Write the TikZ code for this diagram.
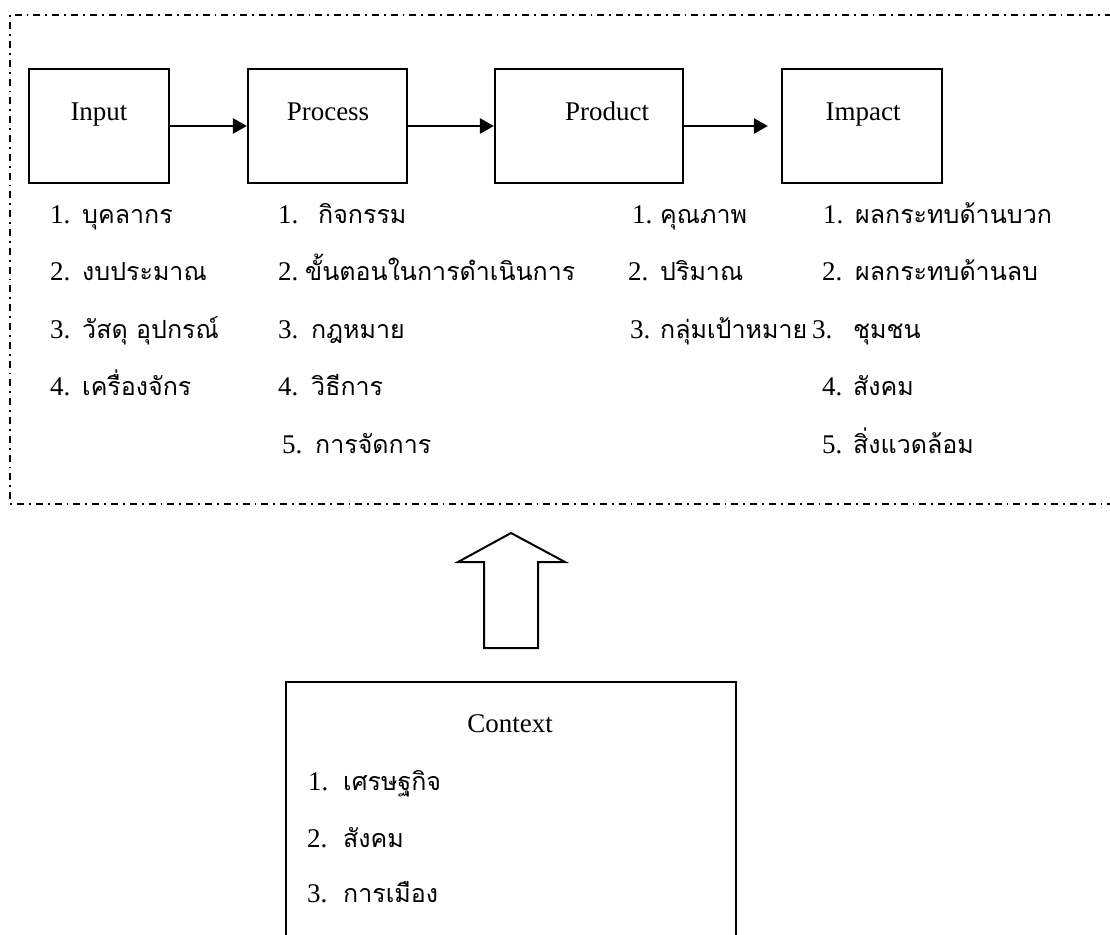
\documentclass[tikz,border=0pt]{standalone}
\usepackage{fontspec}
\setmainfont{Liberation Serif}
\newfontfamily\thaifont[Script=Thai]{Loma}
\usetikzlibrary{arrows.meta}
\newcommand\nb[2]{\makebox[#2pt][l]{#1}}
\tikzset{
  box/.style={draw, line width=2.2pt, minimum width=#1, minimum height=114pt, inner sep=0pt},
  lbl/.style={anchor=base, font=\fontsize{27}{30}\selectfont, inner sep=0pt},
  lst/.style={anchor=base west, font=\fontsize{27}{30}\selectfont, inner sep=0pt},
  conn/.style={line width=2.6pt, -{Triangle[length=14pt,width=15pt]}},
  frame/.style={line width=1.8pt, dash pattern=on 7pt off 5pt on 1.8pt off 5pt},
  bigarrow/.style={line width=2pt, line join=miter}
}
\newcommand\thtxt[1]{{\thaifont\fontsize{25}{28}\selectfont #1}}
\begin{document}
\begin{tikzpicture}[x=1pt,y=-1pt]
\useasboundingbox (0,0) rectangle (1110,934);
% dashed frame
\draw[frame] (1112,15) -- (10,15) -- (10,504) -- (1112,504);
% boxes
\node[box=140pt] (in) at (99,126) {};
\node[box=159pt] (pr) at (327.5,126) {};
\node[box=188pt] (pd) at (589,126) {};
\node[box=160pt] (im) at (862,126) {};
\node[lbl] (inl) at (99,120) {Input};
\node[lbl] (prl) at (328,120) {Process};
\node[lbl] (pdl) at (607,120) {Product};
\node[lbl] (iml) at (863,120) {Impact};
% connectors
\draw[conn] (in.east) -- (pr.west);
\draw[conn] (pr.east) -- (pd.west);
\draw[conn, shorten >=13pt] (pd.east) -- (im.west);
% Input list
\node[lst] (i1) at (50,223) {\nb{1.}{32}\thtxt{บุคลากร}};
\node[lst] (i2) at (50,280) {\nb{2.}{32}\thtxt{งบประมาณ}};
\node[lst] (i3) at (50,338) {\nb{3.}{32}\thtxt{วัสดุ อุปกรณ์}};
\node[lst] (i4) at (50,395) {\nb{4.}{32}\thtxt{เครื่องจักร}};
% Process list
\node[lst] (p1) at (278,223) {\nb{1.}{40}\thtxt{กิจกรรม}};
\node[lst] (p2) at (278,280) {\nb{2.}{27}\thtxt{ขั้นตอนในการดำเนินการ}};
\node[lst] (p3) at (278,338) {\nb{3.}{33}\thtxt{กฎหมาย}};
\node[lst] (p4) at (278,395) {\nb{4.}{33}\thtxt{วิธีการ}};
\node[lst] (p5) at (282,453) {\nb{5.}{33}\thtxt{การจัดการ}};
% Product list
\node[lst] (d1) at (632,223) {\nb{1.}{28}\thtxt{คุณภาพ}};
\node[lst] (d2) at (628,280) {\nb{2.}{32}\thtxt{ปริมาณ}};
\node[lst] (d3) at (630,338) {\nb{3.}{30}\thtxt{กลุ่มเป้าหมาย}};
% Impact list
\node[lst] (m1) at (823,223) {\nb{1.}{32}\thtxt{ผลกระทบด้านบวก}};
\node[lst] (m2) at (822,280) {\nb{2.}{33}\thtxt{ผลกระทบด้านลบ}};
\node[lst] (m3) at (812,338) {\nb{3.}{41}\thtxt{ชุมชน}};
\node[lst] (m4) at (822,395) {\nb{4.}{31}\thtxt{สังคม}};
\node[lst] (m5) at (822,453) {\nb{5.}{31}\thtxt{สิ่งแวดล้อม}};
% big arrow
\draw[bigarrow] (511,533) -- (565,562) -- (538,562) -- (538,648) -- (484,648) -- (484,562) -- (458,562) -- cycle;
% context box
\draw[line width=2.2pt] (286,940) -- (286,682) -- (736,682) -- (736,940);
\node[lbl] (cx) at (510,732) {Context};
\node[lst] (c1) at (308,790) {\nb{1.}{35}\thtxt{เศรษฐกิจ}};
\node[lst] (c2) at (307,847) {\nb{2.}{36}\thtxt{สังคม}};
\node[lst] (c3) at (307,902) {\nb{3.}{36}\thtxt{การเมือง}};
\end{tikzpicture}
\end{document}
